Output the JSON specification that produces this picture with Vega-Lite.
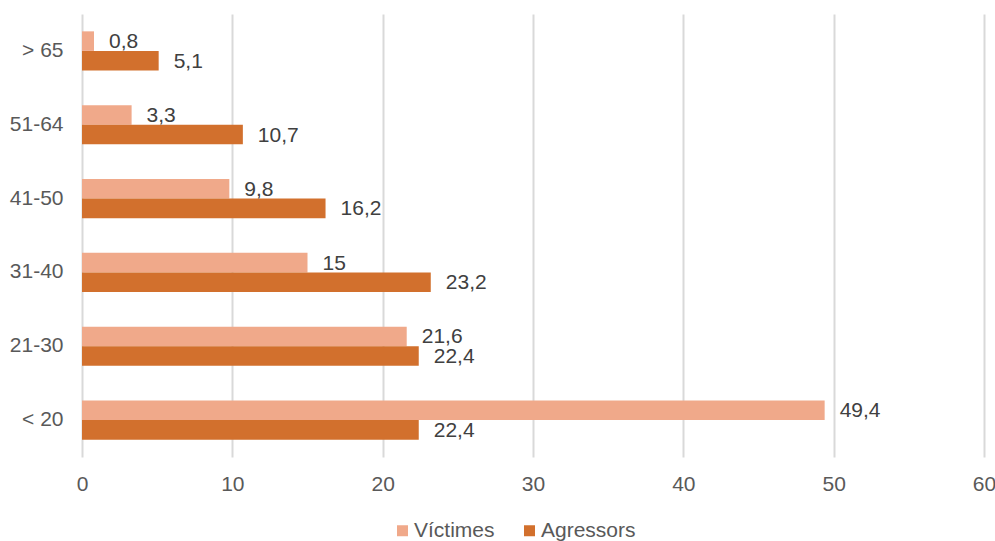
{
  "$schema": "https://vega.github.io/schema/vega-lite/v6.json",
  "width": 902,
  "height": 443,
  "autosize": {"type": "none"},
  "padding": {"left": 82, "top": 14, "right": 11, "bottom": 84},
  "background": "white",
  "config": {
    "locale": {"number": {"decimal": ",", "thousands": ".", "grouping": [3], "currency": ["", " €"]}},
    "view": {"stroke": null},
    "font": "Liberation Sans"
  },
  "data": {
    "values": [
      {"grup": "> 65", "serie": "Víctimes", "valor": 0.8},
      {"grup": "> 65", "serie": "Agressors", "valor": 5.1},
      {"grup": "51-64", "serie": "Víctimes", "valor": 3.3},
      {"grup": "51-64", "serie": "Agressors", "valor": 10.7},
      {"grup": "41-50", "serie": "Víctimes", "valor": 9.8},
      {"grup": "41-50", "serie": "Agressors", "valor": 16.2},
      {"grup": "31-40", "serie": "Víctimes", "valor": 15},
      {"grup": "31-40", "serie": "Agressors", "valor": 23.2},
      {"grup": "21-30", "serie": "Víctimes", "valor": 21.6},
      {"grup": "21-30", "serie": "Agressors", "valor": 22.4},
      {"grup": "< 20", "serie": "Víctimes", "valor": 49.4},
      {"grup": "< 20", "serie": "Agressors", "valor": 22.4}
    ]
  },
  "encoding": {
    "y": {
      "field": "grup", "type": "nominal", "title": null,
      "sort": ["> 65", "51-64", "41-50", "31-40", "21-30", "< 20"],
      "scale": {"paddingInner": 0.47, "paddingOuter": 0.235},
      "axis": {"domain": false, "ticks": false, "labelFontSize": 21, "labelColor": "#595959", "labelPadding": 19, "grid": false}
    },
    "yOffset": {"field": "serie", "type": "nominal", "sort": ["Víctimes", "Agressors"]},
    "x": {
      "field": "valor", "type": "quantitative", "title": null,
      "scale": {"domain": [0, 60], "nice": false},
      "axis": {"values": [0, 10, 20, 30, 40, 50, 60], "labelFlush": false, "domain": false, "ticks": false, "labelFontSize": 21, "labelColor": "#595959", "labelPadding": 16, "gridColor": "#d9d9d9", "gridWidth": 2}
    }
  },
  "layer": [
    {
      "mark": {"type": "bar"},
      "encoding": {
        "color": {
          "field": "serie", "type": "nominal", "sort": ["Víctimes", "Agressors"],
          "scale": {"domain": ["Víctimes", "Agressors"], "range": ["#F0A98A", "#D2702D"]},
          "legend": {"title": null, "orient": "none", "legendX": 310, "legendY": 506, "direction": "horizontal", "symbolType": "square", "symbolSize": 121, "symbolStrokeWidth": 0, "labelFontSize": 21, "labelColor": "#595959", "columnPadding": 24, "labelOffset": 1}
        }
      }
    },
    {
      "mark": {"type": "text", "align": "left", "baseline": "middle", "dx": 15, "dy": 1, "fontSize": 21, "color": "#404040"},
      "encoding": {
        "text": {"field": "valor", "type": "quantitative", "format": ".1~f"}
      }
    }
  ]
}
